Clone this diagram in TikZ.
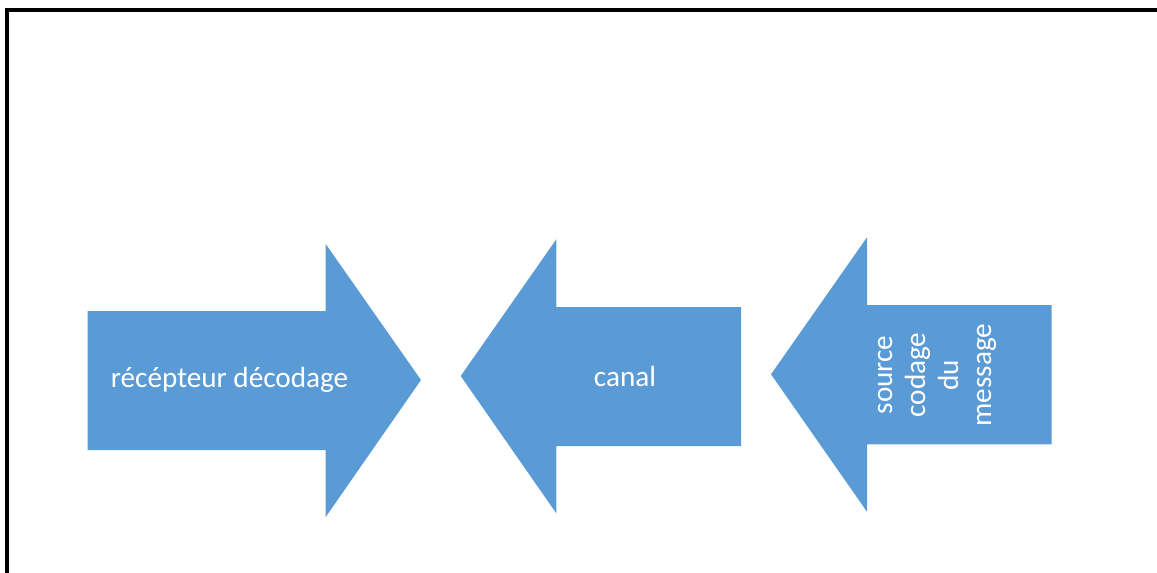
\documentclass[tikz,border=0pt]{standalone}
\usepackage{fontspec}
\setmainfont{Carlito}
\definecolor{officeblue}{HTML}{5B9BD5}
\tikzset{
  frameline/.style={line width=4pt, black},
  blockarrow/.style={fill=officeblue, draw=none},
  arrowlabel/.style={text=white, font=\fontsize{29.2}{33}\selectfont, inner sep=0pt, align=center},
}
\begin{document}
\begin{tikzpicture}[x=1pt, y=-1pt]
  \useasboundingbox (0,0) rectangle (1157,573);
  % open frame: top and left edges
  \draw[frameline] (7,573) -- (7,10) -- (1157,10);

  % right-pointing arrow
  \fill[blockarrow] (87.5,311) -- (325.7,311) -- (325.7,244) -- (421,380)
    -- (325.7,517) -- (325.7,450) -- (87.5,450) -- cycle;
  \node[arrowlabel] (recepteur) at (229.5,380) {récépteur décodage};

  % middle left-pointing arrow
  \fill[blockarrow] (741,307) -- (556.3,307) -- (556.3,239.3) -- (460.7,376)
    -- (556.3,513.3) -- (556.3,446) -- (741,446) -- cycle;
  \node[arrowlabel] (canal) at (625,376.5) {canal};

  % right left-pointing arrow
  \fill[blockarrow] (1051.7,305) -- (867,305) -- (867,237.3) -- (771,374.3)
    -- (867,511.7) -- (867,444.3) -- (1051.7,444.3) -- cycle;
  \node[arrowlabel, rotate=90] (source) at (937,375) {source\\codage\\du\\message};
\end{tikzpicture}
\end{document}
